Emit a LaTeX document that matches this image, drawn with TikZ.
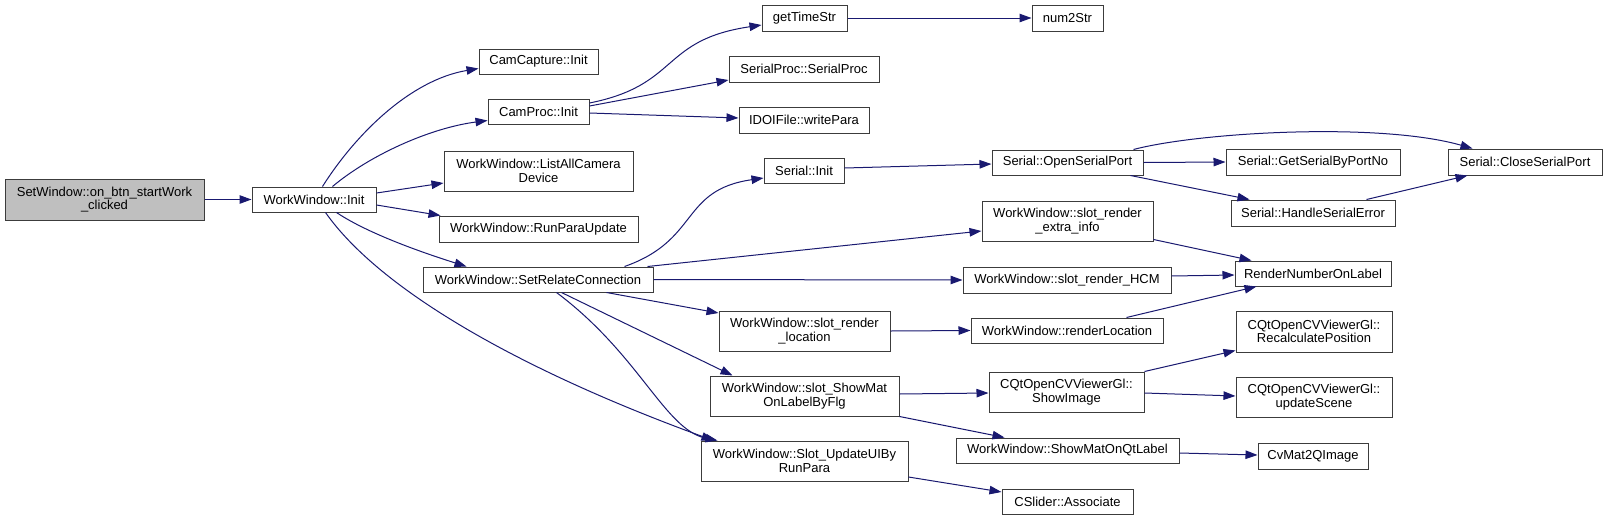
\documentclass[tikz,border=0pt]{standalone}
\usepackage{fontspec}
\setmainfont{Liberation Sans}
\usetikzlibrary{arrows.meta,calc}
\definecolor{edgec}{HTML}{191970}
\definecolor{boxc}{HTML}{3C3C3C}
\definecolor{graybox}{HTML}{BFBFBF}
\begin{document}
\begin{tikzpicture}[x=1pt,y=-1pt,
  fn/.style={draw=boxc, line width=1pt, fill=white, rectangle, inner sep=0pt, align=center,
    font=\fontsize{13}{13.5}\selectfont, text=black},
  call/.style={draw=edgec, line width=1pt, -{Triangle[length=12pt,width=8.5pt]}, fill=none}]
\fill[white] (0,0) rectangle (1607,520);
\useasboundingbox (0,0) rectangle (1607,520);

% nodes
\node[fn, fill=graybox, minimum width=199pt, minimum height=41pt] (setwin) at (104.5,199.5) {SetWindow::on\_btn\_startWork\\\_clicked};
\node[fn, minimum width=124pt, minimum height=25pt] (init) at (314,199.5) {WorkWindow::Init};
\node[fn, minimum width=119pt, minimum height=25pt] (camcap) at (538.5,61.5) {CamCapture::Init};
\node[fn, minimum width=101pt, minimum height=25pt] (camproc) at (538.5,111.5) {CamProc::Init};
\node[fn, minimum width=85pt, minimum height=26pt] (gettime) at (804.5,18) {getTimeStr};
\node[fn, minimum width=150pt, minimum height=26pt] (serialproc) at (804,69) {SerialProc::SerialProc};
\node[fn, minimum width=130pt, minimum height=26pt] (writepara) at (804,120) {IDOIFile::writePara};
\node[fn, minimum width=71pt, minimum height=26pt] (num2str) at (1067.5,18) {num2Str};
\node[fn, minimum width=189pt, minimum height=40pt] (listall) at (538.5,171) {WorkWindow::ListAllCamera\\Device};
\node[fn, minimum width=199pt, minimum height=26pt] (runpara) at (538.5,229) {WorkWindow::RunParaUpdate};
\node[fn, minimum width=230pt, minimum height=25pt] (setrel) at (538,279.5) {WorkWindow::SetRelateConnection};
\node[fn, minimum width=80pt, minimum height=25pt] (serinit) at (804,170.5) {Serial::Init};
\node[fn, minimum width=171pt, minimum height=40pt] (rloc) at (804.5,331) {WorkWindow::slot\_render\\\_location};
\node[fn, minimum width=189pt, minimum height=40pt] (showmat) at (804.5,396) {WorkWindow::slot\_ShowMat\\OnLabelByFlg};
\node[fn, minimum width=207pt, minimum height=40pt] (updui) at (804.5,461) {WorkWindow::Slot\_UpdateUIBy\\RunPara};
\node[fn, minimum width=151pt, minimum height=25pt] (openser) at (1067.5,162.5) {Serial::OpenSerialPort};
\node[fn, minimum width=171pt, minimum height=40pt] (extra) at (1067.5,221) {WorkWindow::slot\_render\\\_extra\_info};
\node[fn, minimum width=208pt, minimum height=26pt] (hcm) at (1067,280) {WorkWindow::slot\_render\_HCM};
\node[fn, minimum width=192pt, minimum height=25pt] (renderloc) at (1067,330.5) {WorkWindow::renderLocation};
\node[fn, minimum width=155pt, minimum height=40pt] (showimg) at (1066.5,392) {CQtOpenCVViewerGl::\\ShowImage};
\node[fn, minimum width=223pt, minimum height=25pt] (showqt) at (1067.5,450.5) {WorkWindow::ShowMatOnQtLabel};
\node[fn, minimum width=131pt, minimum height=25pt] (cslider) at (1067.5,501.5) {CSlider::Associate};
\node[fn, minimum width=174pt, minimum height=26pt] (getser) at (1313,162) {Serial::GetSerialByPortNo};
\node[fn, minimum width=164pt, minimum height=26pt] (handle) at (1313,213) {Serial::HandleSerialError};
\node[fn, minimum width=156pt, minimum height=25pt] (rnol) at (1313,273.5) {RenderNumberOnLabel};
\node[fn, minimum width=156pt, minimum height=41pt] (recalc) at (1314,331.5) {CQtOpenCVViewerGl::\\RecalculatePosition};
\node[fn, minimum width=156pt, minimum height=40pt] (upscene) at (1314,397) {CQtOpenCVViewerGl::\\updateScene};
\node[fn, minimum width=110pt, minimum height=26pt] (cvmat) at (1313,456) {CvMat2QImage};
\node[fn, minimum width=154pt, minimum height=26pt] (closeser) at (1525,162) {Serial::CloseSerialPort};

% edges
\draw[call] (setwin.east) -- (init.west);
\draw[call] ($(init.north west)+(71,0)$) .. controls (355,135) and (410,80) .. ($(camcap.south west)+(0,-6)$);
\draw[call] ($(init.north west)+(81,0)$) .. controls (370,155) and (430,128) .. ($(camproc.south west)+(0,-4)$);
\draw[call] ($(init.east)+(0,-6.5)$) -- ($(listall.west)+(0,12)$);
\draw[call] ($(init.east)+(0,5.5)$) -- ($(runpara.north west)+(2,0)$);
\draw[call] ($(init.south west)+(85,0)$) .. controls (370,235) and (430,255) .. ($(setrel.north west)+(44,0)$);
\draw[call] ($(init.south west)+(74,0)$) .. controls (380,290) and (520,370) .. ($(updui.north west)+(13,0)$);
\draw[call] ($(camproc.east)+(0,-8.5)$) .. controls (680,85) and (660,40) .. ($(gettime.west)+(0,7)$);
\draw[call] ($(camproc.east)+(0,-5.5)$) -- ($(serialproc.west)+(0,11)$);
\draw[call] ($(camproc.east)+(0,1.5)$) -- ($(writepara.west)+(0,-2)$);
\draw[call] (gettime.east) -- (num2str.west);
\draw[call] ($(setrel.north west)+(202,0)$) .. controls (700,240) and (680,190) .. ($(serinit.west)+(0,7.5)$);
\draw[call] ($(setrel.north east)+(-6,0)$) -- ($(extra.west)+(0,10)$);
\draw[call] (setrel.east) -- (hcm.west);
\draw[call] ($(setrel.south west)+(184,0)$) -- ($(rloc.west)+(0,-18)$);
\draw[call] ($(setrel.south west)+(139,0)$) -- ($(showmat.north west)+(23,0)$);
\draw[call] ($(setrel.south west)+(134,0)$) .. controls (640,355) and (665,430) .. ($(updui.north west)+(17,0)$);
\draw[call] ($(serinit.east)+(0,-2.5)$) -- ($(openser.west)+(0,1.5)$);
\draw[call] ($(openser.north east)+(-10,0)$) .. controls (1200,132) and (1380,122) .. ($(closeser.north west)+(25,0)$);
\draw[call] (openser.east) -- (getser.west);
\draw[call] ($(openser.south east)+(-13,0)$) -- ($(handle.north west)+(19,0)$);
\draw[call] ($(handle.north west)+(136,0)$) -- ($(closeser.south west)+(20,0)$);
\draw[call] ($(extra.south east)+(0,-2)$) -- ($(rnol.north west)+(17,0)$);
\draw[call] ($(hcm.east)+(0,-4)$) -- ($(rnol.west)+(0,1.5)$);
\draw[call] (rloc.east) -- (renderloc.west);
\draw[call] ($(renderloc.north west)+(156,0)$) -- ($(rnol.south west)+(22,0)$);
\draw[call] ($(showmat.east)+(0,-2)$) -- ($(showimg.west)+(0,1)$);
\draw[call] (showmat.south east) -- ($(showqt.north west)+(49,0)$);
\draw[call] (showimg.north east) -- ($(recalc.south west)+(0,-2)$);
\draw[call] ($(showimg.east)+(0,1)$) -- ($(upscene.west)+(0,-1)$);
\draw[call] ($(showqt.east)+(0,2.5)$) -- ($(cvmat.west)+(0,-1)$);
\draw[call] ($(updui.east)+(0,16)$) -- ($(cslider.west)+(0,-9.5)$);
\end{tikzpicture}
\end{document}
